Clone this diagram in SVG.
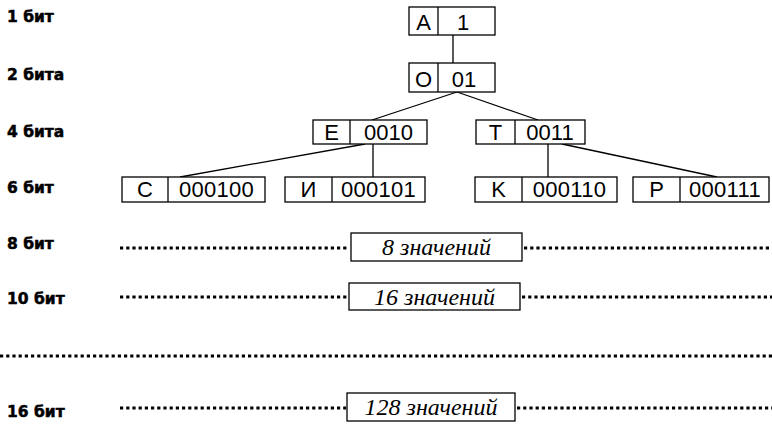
<svg xmlns="http://www.w3.org/2000/svg" width="772" height="424" viewBox="0 0 772 424">
<style>
.lbl{font-family:"DejaVu Sans",sans-serif;font-weight:bold;font-size:15.5px;fill:#000;stroke:#000;stroke-width:0.5}
.box{fill:#fff;stroke:#000;stroke-width:1.3}
.t{font-family:"Liberation Sans",Arial,sans-serif;font-size:22px;fill:#000;text-anchor:middle}
.it{font-family:"Liberation Serif","Times New Roman",serif;font-style:italic;font-size:24px;fill:#000;text-anchor:middle}
.ln{stroke:#000;stroke-width:1.3;fill:none}
.dot{stroke:#000;stroke-width:3.2;stroke-dasharray:3.2 3;fill:none}
</style>
<rect width="772" height="424" fill="#fff"/>
<g id="labels">
<text class="lbl" x="7" y="22">1 бит</text>
<text class="lbl" x="7" y="80">2 бита</text>
<text class="lbl" x="7" y="137">4 бита</text>
<text class="lbl" x="7" y="193">6 бит</text>
<text class="lbl" x="7" y="249">8 бит</text>
<text class="lbl" x="7" y="304">10 бит</text>
<text class="lbl" x="7" y="417">16 бит</text>
</g>
<g id="connectors">
<line class="ln" x1="453" y1="35" x2="453" y2="63"/>
<line class="ln" x1="457" y1="92" x2="372" y2="120"/>
<line class="ln" x1="457" y1="92" x2="538" y2="120"/>
<line class="ln" x1="365" y1="144" x2="180" y2="177"/>
<line class="ln" x1="373" y1="144" x2="373" y2="177"/>
<line class="ln" x1="548" y1="144" x2="548" y2="177"/>
<line class="ln" x1="562" y1="144" x2="717" y2="177"/>
<line class="dot" x1="120" y1="248" x2="349" y2="248"/>
<line class="dot" x1="524" y1="248" x2="772" y2="248"/>
<line class="dot" x1="120" y1="297" x2="348" y2="297"/>
<line class="dot" x1="522" y1="297" x2="772" y2="297"/>
<line class="dot" x1="0" y1="356" x2="772" y2="356"/>
<line class="dot" x1="120" y1="408" x2="346" y2="408"/>
<line class="dot" x1="517" y1="408" x2="772" y2="408"/>
</g>
<g id="node-A">
<rect class="box" x="409" y="7" width="86" height="28"/>
<line class="ln" x1="438" y1="7" x2="438" y2="35"/>
<text class="t" x="423.5" y="30">A</text>
<text class="t" x="463" y="30">1</text>
</g>
<g id="node-O">
<rect class="box" x="409" y="63" width="86" height="29"/>
<line class="ln" x1="438" y1="63" x2="438" y2="92"/>
<text class="t" x="423.5" y="87">O</text>
<text class="t" x="464" y="87">01</text>
</g>
<g id="node-E">
<rect class="box" x="313" y="120" width="114" height="24"/>
<line class="ln" x1="350" y1="120" x2="350" y2="144"/>
<text class="t" x="331.5" y="140">E</text>
<text class="t" x="388.5" y="140">0010</text>
</g>
<g id="node-T">
<rect class="box" x="476" y="120" width="109" height="24"/>
<line class="ln" x1="515" y1="120" x2="515" y2="144"/>
<text class="t" x="495.5" y="140">T</text>
<text class="t" x="550" y="140">0011</text>
</g>
<g id="node-C">
<rect class="box" x="122" y="177" width="143" height="25"/>
<line class="ln" x1="168" y1="177" x2="168" y2="202"/>
<text class="t" x="145" y="197">C</text>
<text class="t" x="216.5" y="197" letter-spacing="0.3">000100</text>
</g>
<g id="node-I">
<rect class="box" x="285" y="177" width="140" height="25"/>
<line class="ln" x1="332" y1="177" x2="332" y2="202"/>
<text class="t" x="308.5" y="197">И</text>
<text class="t" x="378.5" y="197" letter-spacing="0.3">000101</text>
</g>
<g id="node-K">
<rect class="box" x="475" y="177" width="142" height="25"/>
<line class="ln" x1="522" y1="177" x2="522" y2="202"/>
<text class="t" x="498.5" y="197">K</text>
<text class="t" x="569.5" y="197" letter-spacing="0.3">000110</text>
</g>
<g id="node-P">
<rect class="box" x="633" y="177" width="136" height="25"/>
<line class="ln" x1="680" y1="177" x2="680" y2="202"/>
<text class="t" x="656.5" y="197">P</text>
<text class="t" x="725" y="197" letter-spacing="0.3">000111</text>
</g>
<g id="node-8">
<rect class="box" x="351" y="233" width="171" height="28"/>
<text class="it" x="436.5" y="255">8 значений</text>
</g>
<g id="node-16">
<rect class="box" x="349" y="283" width="171" height="27"/>
<text class="it" x="434.5" y="305">16 значений</text>
</g>
<g id="node-128">
<rect class="box" x="347" y="393" width="168" height="28"/>
<text class="it" x="431" y="415">128 значений</text>
</g>
</svg>
